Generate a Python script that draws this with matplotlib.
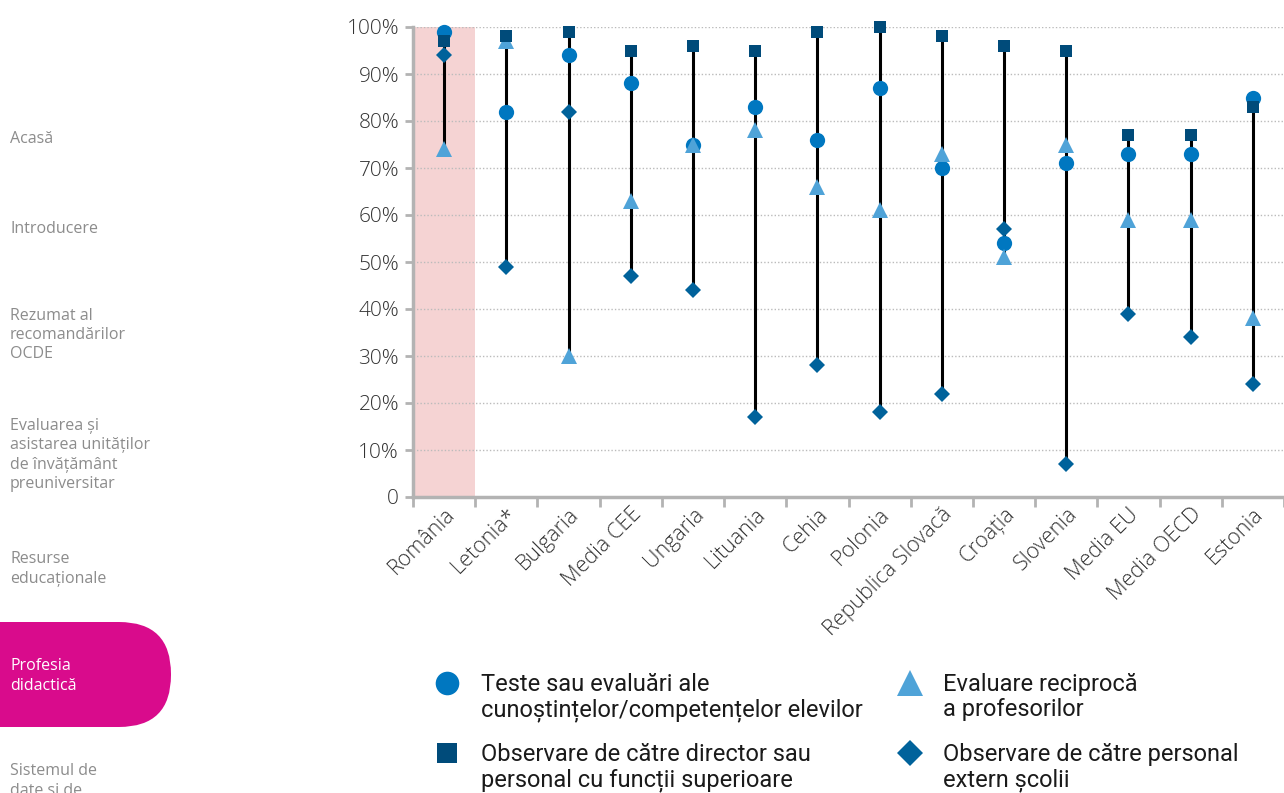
import numpy as np
import matplotlib.pyplot as plt
from matplotlib.patches import FancyBboxPatch

categories = ["România", "Letonia*", "Bulgaria", "Media CEE", "Ungaria", "Lituania", "Cehia",
              "Polonia", "Republica Slovacă", "Croația", "Slovenia", "Media EU", "Media OECD", "Estonia"]
teste = [99, 82, 94, 88, 75, 83, 76, 87, 70, 54, 71, 73, 73, 85]
director = [97, 98, 99, 95, 96, 95, 99, 100, 98, 96, 95, 77, 77, 83]
reciproca = [74, 97, 30, 63, 75, 78, 66, 61, 73, 51, 75, 59, 59, 38]
extern = [94, 49, 82, 47, 44, 17, 28, 18, 22, 57, 7, 39, 34, 24]

legend_labels = ["Teste sau evaluări ale\ncunoștințelor/competențelor elevilor",
                 "Observare de către director sau\npersonal cu funcții superioare",
                 "Evaluare reciprocă\na profesorilor",
                 "Observare de către personal\nextern școlii"]

menu = [("Acasă", 139), ("Introducere", 229), ("Rezumat al\nrecomandărilor\nOCDE", 335),
        ("Evaluarea și\nasistarea unităților\nde învățământ\npreuniversitar", 455),
        ("Resurse\neducaționale", 569), ("Sistemul de\ndate și de", 781)]

c_circle = "#0077c0"
c_square = "#004b7a"
c_diamond = "#00629b"
c_tri = "#4fa3d8"
grey = "#b3b3b3"

fig = plt.figure(figsize=(12.84, 7.93), dpi=100)

# sidebar + legend drawn in pixel coordinates
side = fig.add_axes([0, 0, 1, 1], zorder=0)
side.set_xlim(0, 1284)
side.set_ylim(793, 0)
side.axis("off")
for txt, yc in menu:
    side.text(10, yc, txt, fontsize=11.5, color="#8c8c8c", va="center", ha="left",
              family="Open Sans", linespacing=1.28)
side.add_patch(FancyBboxPatch((-80, 622), 251, 105, boxstyle="round,pad=0,rounding_size=52",
                              fc="#d90b8c", ec="none"))
side.text(10, 676, "Profesia\ndidactică", fontsize=11.5, color="white", va="center",
          family="Open Sans", linespacing=1.28)

# legend: (marker, colour, size, x marker, x text, y)
leg_items = [("o", c_circle, 17, 447, 481, 683),
             ("s", c_square, 14.5, 447, 481, 753),
             ("^", c_tri, 19, 910, 943, 683),
             ("D", c_diamond, 13.5, 910, 943, 753)]
for (mk, col, ms, xm, xt, yy), lab in zip(leg_items, legend_labels):
    side.plot([xm], [yy], mk, color=col, ms=ms, mew=0)
    side.text(xt, yy - 10, lab, fontsize=17, family="Roboto", color="#1a1a1a",
              va="top", ha="left", linespacing=1.1)

ax = fig.add_axes([413 / 1284, 1 - 497 / 793, 1 - 413 / 1284, 470 / 793], zorder=1)
ax.patch.set_alpha(0)
x = np.arange(len(categories))
ax.axvspan(-0.5, 0.5, color="#f5d3d3", zorder=0, lw=0)

allv = np.array([teste, director, reciproca, extern])
ax.vlines(x, allv.min(axis=0), allv.max(axis=0), color="black", lw=2.2, zorder=2)
ax.plot(x, teste, "o", color=c_circle, ms=11, mew=0, zorder=3, clip_on=False)
ax.plot(x, reciproca, "^", color=c_tri, ms=11, mew=0, zorder=4, clip_on=False)
ax.plot(x, director, "s", color=c_square, ms=9.3, mew=0, zorder=5, clip_on=False)
ax.plot(x, extern, "D", color=c_diamond, ms=8.5, mew=0, zorder=6, clip_on=False)

ax.set_xlim(-0.5, len(categories) - 0.5)
ax.set_ylim(0, 100)
ax.set_yticks(np.arange(0, 101, 10))
ax.set_yticklabels(["0"] + [f"{v}%" for v in range(10, 101, 10)])
ax.set_xticks(np.arange(-0.5, len(categories), 1), minor=False)
ax.set_xticklabels([])
ax.set_xticks(x, minor=True)
ax.set_xticklabels(categories, minor=True, rotation=45, ha="right", rotation_mode="anchor",
                   fontsize=15.5, family="Open Sans", fontweight="light", color="#333333")
ax.tick_params(axis="x", which="minor", length=0, pad=5)
ax.tick_params(axis="x", which="major", length=7, width=2, color=grey)
ax.tick_params(axis="y", length=6, width=2, color=grey, labelsize=15, labelcolor="#333333", pad=4)
for lab in ax.get_yticklabels():
    lab.set_family("Open Sans")
    lab.set_fontweight("light")
ax.grid(axis="y", linestyle=(0, (1, 1.5)), color="#bbbbbb", lw=1, zorder=1)
ax.set_axisbelow(True)
for s in ["top", "right"]:
    ax.spines[s].set_visible(False)
for s in ["left", "bottom"]:
    ax.spines[s].set_color(grey)
    ax.spines[s].set_linewidth(2.5)

fig.savefig("out.png", dpi=100)
